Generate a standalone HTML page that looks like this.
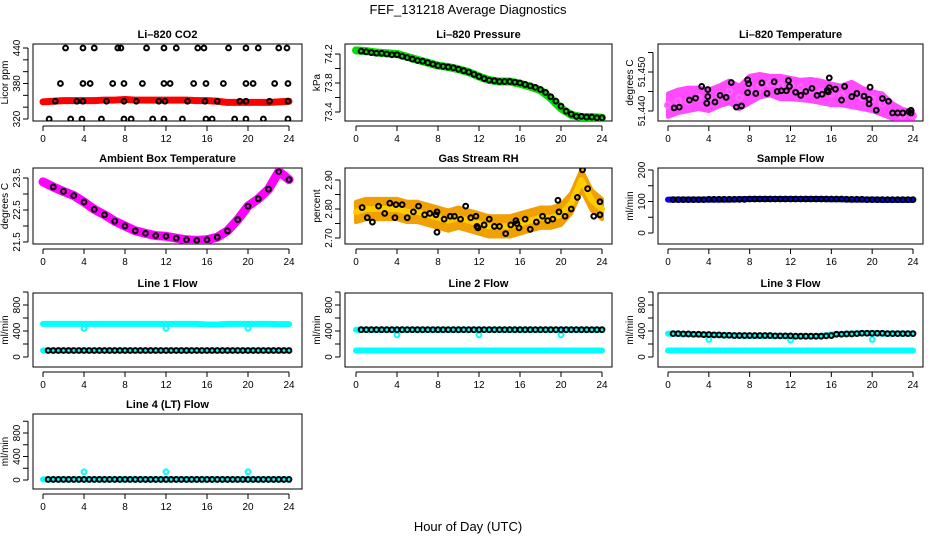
<!DOCTYPE html>
<html><head><meta charset="utf-8"><style>
html,body{margin:0;padding:0;background:#fff;}
svg{display:block;font-family:"Liberation Sans",sans-serif;}
</style></head><body>
<svg id="chart" width="936" height="540" viewBox="0 0 936 540">
<text x="468" y="14" text-anchor="middle" font-size="13">FEF_131218  Average Diagnostics</text>
<text x="468" y="531" text-anchor="middle" font-size="13">Hour of Day (UTC)</text>
</svg>
<script>
// ---------- data ----------
const hours = [0,1,2,3,4,5,6,7,8,9,10,11,12,13,14,15,16,17,18,19,20,21,22,23,24];
const xTicks = [0,4,8,12,16,20,24];
const halfHours = [0.5,1,1.5,2,2.5,3,3.5,4,4.5,5,5.5,6,6.5,7,7.5,8,8.5,9,9.5,10,10.5,11,11.5,12,12.5,13,13.5,14,14.5,15,15.5,16,16.5,17,17.5,18,18.5,19,19.5,20,20.5,21,21.5,22,22.5,23,23.5,24];

const co2Band = [349,350,351,351,351,351,352,352,353,352,352,352,352,352,352,351,351,350,348,348,348,348,348,349,350];
const co2PtsX = [2.2,3.9,5.0,7.3,7.6,10.1,11.8,13.0,15.1,15.7,18.1,19.8,21.0,23.0,23.8, 1.7,3.9,4.6,6.8,7.9,9.7,11.8,12.4,14.7,15.9,17.6,19.8,20.5,22.6,23.9, 1.2,3.3,3.9,6.2,7.9,9.1,11.3,11.9,14.1,15.8,17.0,19.2,19.8,22.1,23.9, 0.6,2.7,3.8,5.7,7.9,8.6,10.7,11.8,13.6,15.9,16.5,18.7,19.8,21.5,23.9];
const co2PtsY = [440,440,440,440,440,440,440,440,440,440,440,440,440,440,440, 380,380,380,380,380,380,380,380,380,380,380,380,380,380,380, 350,350,350,350,350,350,350,350,350,350,350,350,350,350,350, 320,320,320,320,320,320,320,320,320,320,320,320,320,320,320];

const presBand = [74.25,74.24,74.22,74.21,74.20,74.16,74.12,74.08,74.04,74.02,73.99,73.95,73.89,73.84,73.82,73.82,73.79,73.75,73.70,73.59,73.45,73.36,73.33,73.33,73.32];
const presPts = [74.24,74.23,74.22,74.21,74.21,74.20,74.19,74.19,74.17,74.15,74.13,74.11,74.10,74.08,74.06,74.04,74.03,74.02,74.01,73.99,73.97,73.95,73.92,73.89,73.86,73.84,73.83,73.82,73.82,73.82,73.81,73.80,73.78,73.76,73.74,73.71,73.67,73.61,73.55,73.48,73.41,73.37,73.34,73.34,73.33,73.33,73.32,73.32];

const tempMid = [51.4415,51.4425,51.4425,51.4435,51.4430,51.4440,51.4450,51.4435,51.4455,51.4465,51.4470,51.4465,51.4465,51.4460,51.4455,51.4450,51.4445,51.4440,51.4440,51.4435,51.4430,51.4420,51.4395,51.4388,51.4388];
const tempUpper = [51.4445,51.4455,51.4460,51.4460,51.4455,51.4465,51.4478,51.4465,51.4490,51.4495,51.4490,51.4490,51.4485,51.4480,51.4482,51.4478,51.4470,51.4465,51.4475,51.4460,51.4450,51.4445,51.4420,51.4405,51.4400];
const tempLower = [51.4385,51.4395,51.4400,51.4405,51.4400,51.4412,51.4420,51.4405,51.4420,51.4435,51.4440,51.4430,51.4430,51.4428,51.4425,51.4420,51.4415,51.4415,51.4410,51.4405,51.4400,51.4390,51.4380,51.4378,51.4378];
const tempPtsX = [0.6,1.1,2.1,2.7,3.3,3.9,3.9,3.8,4.6,5.1,5.7,6.2,6.7,7.2,7.8,7.8,7.9,8.6,9.2,9.7,10.4,10.7,11.1,11.6,11.8,11.9,12.5,13.0,13.5,14.1,14.6,15.1,15.6,15.7,15.8,15.8,16.4,17.0,17.3,18.0,18.5,19.2,19.7,19.7,19.8,20.4,21.0,21.6,22.0,22.5,23.0,23.6,23.8,23.8];
const tempPtsY = [51.4408,51.4410,51.4428,51.4433,51.4463,51.4455,51.4437,51.4420,51.4423,51.4440,51.4435,51.4473,51.4410,51.4413,51.4447,51.4480,51.4470,51.4445,51.4472,51.4445,51.4475,51.4450,51.4452,51.4452,51.4478,51.4463,51.4448,51.4440,51.4450,51.4458,51.4440,51.4443,51.4453,51.4449,51.4460,51.4485,51.4456,51.4428,51.4463,51.4437,51.4445,51.4438,51.4430,51.4418,51.4461,51.4402,51.4432,51.4425,51.4395,51.4395,51.4395,51.4398,51.4402,51.4395];

const ambBand = [23.38,23.22,23.08,22.95,22.75,22.52,22.35,22.15,22.00,21.85,21.77,21.70,21.68,21.62,21.57,21.55,21.57,21.65,21.85,22.20,22.62,22.85,23.15,23.70,23.45];

const rhMid = [2.79,2.80,2.80,2.80,2.80,2.79,2.79,2.78,2.77,2.76,2.77,2.76,2.75,2.74,2.74,2.74,2.75,2.76,2.77,2.77,2.78,2.82,2.90,2.83,2.80];
const rhPtsX = [0.6,1.1,1.6,2.2,2.8,3.3,3.8,3.9,4.5,5.0,5.6,6.1,6.7,7.2,7.8,7.9,7.9,8.6,9.2,9.6,10.2,10.7,11.2,11.7,11.8,11.9,12.5,13.0,13.5,14.0,14.6,15.1,15.6,15.7,15.9,16.5,17.0,17.6,18.2,18.7,19.2,19.7,19.8,20.4,21.0,21.6,22.1,22.6,23.2,23.8,23.8];
const rhPtsY = [2.805,2.77,2.755,2.81,2.785,2.82,2.77,2.815,2.815,2.77,2.79,2.81,2.78,2.785,2.78,2.79,2.72,2.765,2.775,2.775,2.765,2.81,2.77,2.775,2.74,2.735,2.745,2.765,2.74,2.74,2.715,2.745,2.76,2.75,2.735,2.765,2.73,2.755,2.775,2.76,2.765,2.83,2.79,2.775,2.80,2.84,2.935,2.87,2.775,2.825,2.78];

const flowBand = [106,106,106,106,106,106,106,107,108,108,108,108,108,108,108,108,107,107,106,106,106,105,105,105,105];
const flowPts = [106,106,106,106,106,106,106,107,107,107,107,107,107,107,107,108,108,108,108,108,108,108,108,108,108,108,108,108,108,108,108,108,108,108,107,107,107,107,106,106,106,106,106,106,106,106,106,106];

const line1Cyan = [510,510,510,510,510,510,510,510,510,510,510,510,510,510,510,510,500,500,510,510,510,510,510,505,505];
const line1CyanLow = [100,100,100,100,100,100,100,100,100,100,100,100,100,100,100,100,100,100,100,100,100,100,100,100,100];
const line1Black = [100,100,100,100,100,100,100,100,100,100,100,100,100,100,100,100,100,100,100,100,100,100,100,100,100,100,100,100,100,100,100,100,100,100,100,100,100,100,100,100,100,100,100,100,100,100,100,100];
const line2Black = [420,420,420,420,420,420,420,420,420,420,420,420,420,420,420,420,420,420,420,420,420,420,420,420,420,420,420,420,420,420,420,420,420,420,420,420,420,420,420,420,420,420,420,420,420,420,420,420];
const line2CyanHigh = [420,420,420,420,420,420,420,420,420,420,420,420,420,420,420,420,420,420,420,420,420,420,420,420,420];
const line2CyanLow = [100,100,100,100,100,100,100,100,100,100,100,100,100,100,100,100,100,100,100,100,100,100,100,100,100];
const line3Black = [360,360,355,355,350,350,345,345,340,340,335,335,330,330,330,330,330,330,330,330,325,325,325,325,320,320,320,320,320,320,325,330,350,350,355,355,360,365,365,365,365,365,360,360,360,360,360,360];
const line3CyanHigh = [360,355,350,345,340,335,330,330,325,325,325,325,320,320,320,325,345,355,360,365,365,360,360,360,360];
const line3CyanLow = [100,100,100,100,100,100,100,100,100,100,100,100,100,100,100,100,100,100,100,100,100,100,100,100,100];
const line4Black = [10,10,10,10,10,10,10,10,10,10,10,10,10,10,10,10,10,10,10,10,10,10,10,10,10,10,10,10,10,10,10,10,10,10,10,10,10,10,10,10,10,10,10,10,10,10,10,10];
const line4Cyan = [10,10,10,10,10,10,10,10,10,10,10,10,10,10,10,10,10,10,10,10,10,10,10,10,10];
const outlierHours = [4,12,20];
const line1Outliers = [440,440,440];
const line2Outliers = [340,340,340];
const line3Outliers = [270,260,270];
const line4Outliers = [140,140,140];

// ---------- layout ----------
const NS = "http://www.w3.org/2000/svg";
const svg = document.getElementById("chart");
const cols = [{l:33,r:302,t0:43,t24:289},{l:345,r:612,t0:356,t24:602},{l:658,r:923,t0:668,t24:913}];
const rows = [{t:44,b:121},{t:168,b:244},{t:293,b:367},{t:414,b:489}];

function el(tag, attrs, parent){
  const e = document.createElementNS(NS, tag);
  for (const k in attrs) e.setAttribute(k, attrs[k]);
  (parent||svg).appendChild(e);
  return e;
}

function makePanel(ci, ri, name, title, ylab, yA, yB, yTicks, yLabels){
  const c = cols[ci], r = rows[ri];
  const g = el("g", {});
  
  
  const x = h => c.t0 + (c.t24 - c.t0) * h / 24;
  const y = v => yA.p + (v - yA.v) * (yB.p - yA.p) / (yB.v - yA.v);
  const t = el("text", {x:(c.l+c.r)/2, y:r.t-6, "text-anchor":"middle", "font-size":"11", "font-weight":"bold"}, g);
  t.textContent = title;
  
  
  const box = el("rect", {x:c.l, y:r.t, width:c.r-c.l, height:r.b-r.t, fill:"none", stroke:"#000", "stroke-width":"1"}, g);
  
  
  const xa = el("g", {}, g);
  
  
  el("line", {x1:x(0), x2:x(24), y1:r.b+5, y2:r.b+5, stroke:"#000"}, xa);
  xTicks.forEach(h => {
    el("line", {x1:x(h), x2:x(h), y1:r.b+5, y2:r.b+10, stroke:"#000"}, xa);
    const tl = el("text", {x:x(h), y:r.b+21, "text-anchor":"middle", "font-size":"10"}, xa);
    tl.textContent = h;
  });
  const ya = el("g", {}, g);
  
  
  el("line", {x1:c.l-5, x2:c.l-5, y1:y(yTicks[0]), y2:y(yTicks[yTicks.length-1]), stroke:"#000"}, ya);
  yTicks.forEach(v => {
    el("line", {x1:c.l-10, x2:c.l-5, y1:y(v), y2:y(v), stroke:"#000"}, ya);
  });
  yLabels.forEach(v => {
    const tl = el("text", {x:0, y:0, "text-anchor":"middle", "font-size":"10", transform:`translate(${c.l-13},${y(v)}) rotate(-90)`}, ya);
    tl.textContent = v;
  });
  const yl = el("text", {x:0, y:0, "text-anchor":"middle", "font-size":"10", transform:`translate(${c.l-25},${(r.t+r.b)/2}) rotate(-90)`}, g);
  yl.textContent = ylab;
  
  
  const clipId = name + "-clip";
  const cp = el("clipPath", {id:clipId}, g);
  el("rect", {x:c.l, y:r.t, width:c.r-c.l, height:r.b-r.t}, cp);
  const marks = el("g", {"clip-path":`url(#${clipId})`}, g);
  
  
  return {x, y, g:marks};
}

function band(p, xs, vs, color, w, name){
  const pts = xs.map((h,i) => p.x(h) + "," + p.y(vs[i])).join(" ");
  const pl = el("polyline", {points:pts, fill:"none", stroke:color, "stroke-width":w, "stroke-linecap":"round", "stroke-linejoin":"round"}, p.g);
  
  
}
function area(p, xs, lo, hi, color, name, op){
  const pts = xs.map((h,i) => p.x(h) + "," + p.y(hi[i])).concat(xs.slice().reverse().map((h,j) => { const i = xs.length-1-j; return p.x(h) + "," + p.y(lo[i]); })).join(" ");
  const pg = el("polygon", {points:pts, fill:color, stroke:color, "stroke-width":"4", "stroke-linejoin":"round", opacity:op||1}, p.g);
  
  
}
function points(p, xs, vs, color, name, r){
  xs.forEach((h,i) => {
    const c = el("circle", {cx:p.x(h), cy:p.y(vs[i]), r:r||2.4, fill:"none", stroke:color, "stroke-width":"2"}, p.g);
    
    
  });
}

// Row 1
let p = makePanel(0,0,"co2","Li\u2013820 CO2","Licor ppm",{v:320,p:119},{v:440,p:48},[320,340,360,380,400,420,440],[320,380,440]);
band(p, hours, co2Band, "#ff0000", 7, "co2-red-series");
points(p, co2PtsX, co2PtsY, "#000", "co2-point");

p = makePanel(1,0,"pressure","Li\u2013820 Pressure","kPa",{v:73.4,p:112},{v:74.2,p:54},[73.4,73.6,73.8,74.0,74.2],[73.4,73.8,74.2]);
band(p, hours, presBand, "#00dd00", 8, "pressure-green-series");
points(p, halfHours, presPts, "#000", "pressure-point");

p = makePanel(2,0,"li820-temp","Li\u2013820 Temperature","degrees C",{v:51.440,p:111},{v:51.450,p:72},[51.440,51.445,51.450,51.455],["51.440","51.450"]);
area(p, hours, tempLower, tempUpper, "#ff00ff", "li820-temp-magenta-band", 0.7);
points(p, hours, tempMid, "#ff66ff", "li820-temp-magenta-point", 3);
points(p, tempPtsX, tempPtsY, "#000", "li820-temp-point");

// Row 2
p = makePanel(0,1,"ambient","Ambient Box Temperature","degrees C",{v:21.5,p:242},{v:23.5,p:178},[21.5,22.0,22.5,23.0,23.5],["21.5","22.5","23.5"]);
band(p, hours, ambBand, "#ff00ff", 9, "ambient-magenta-series");
points(p, hours.slice(1), ambBand.slice(1), "#000", "ambient-point");

p = makePanel(1,1,"rh","Gas Stream RH","percent",{v:2.70,p:238},{v:2.90,p:180},[2.70,2.75,2.80,2.85,2.90],["2.70","2.80","2.90"]);
area(p, hours, rhMid.map(v=>v-0.035), rhMid.map(v=>v+0.035), "#f0a000", "rh-orange-band");
band(p, hours, rhMid, "#ffcc00", 6, "rh-yellow-series");
points(p, rhPtsX, rhPtsY, "#000", "rh-point");

p = makePanel(2,1,"sample-flow","Sample Flow","ml/min",{v:0,p:233},{v:200,p:170},[0,50,100,150,200],[0,100,200]);
band(p, hours, flowBand, "#0000ff", 6, "sample-flow-blue-series");
points(p, halfHours, flowPts, "#000", "sample-flow-point");

// Row 3
const flowTicks = [0,200,400,600,800,1000], flowLabels = [0,400,800];
p = makePanel(0,2,"line1","Line 1 Flow","ml/min",{v:0,p:357},{v:800,p:305},flowTicks,flowLabels);
band(p, hours, line1Cyan, "#00ffff", 6, "line1-cyan-series");
band(p, hours, line1CyanLow, "#00ffff", 6, "line1-cyan-low-series");
points(p, outlierHours, line1Outliers, "#00ffff", "line1-cyan-outlier");
points(p, halfHours, line1Black, "#000", "line1-point");

p = makePanel(1,2,"line2","Line 2 Flow","ml/min",{v:0,p:357},{v:800,p:305},flowTicks,flowLabels);
band(p, hours, line2CyanHigh, "#00ffff", 6, "line2-cyan-series");
band(p, hours, line2CyanLow, "#00ffff", 6, "line2-cyan-low-series");
points(p, outlierHours, line2Outliers, "#00ffff", "line2-cyan-outlier");
points(p, halfHours, line2Black, "#000", "line2-point");

p = makePanel(2,2,"line3","Line 3 Flow","ml/min",{v:0,p:357},{v:800,p:305},flowTicks,flowLabels);
band(p, hours, line3CyanHigh, "#00ffff", 6, "line3-cyan-series");
band(p, hours, line3CyanLow, "#00ffff", 6, "line3-cyan-low-series");
points(p, outlierHours, line3Outliers, "#00ffff", "line3-cyan-outlier");
points(p, halfHours, line3Black, "#000", "line3-point");

// Row 4
p = makePanel(0,3,"line4","Line 4 (LT) Flow","ml/min",{v:0,p:480},{v:800,p:433},flowTicks,flowLabels);
band(p, hours, line4Cyan, "#00ffff", 6, "line4-cyan-series");
points(p, outlierHours, line4Outliers, "#00ffff", "line4-cyan-outlier");
points(p, halfHours, line4Black, "#000", "line4-point");
</script>
</body></html>
